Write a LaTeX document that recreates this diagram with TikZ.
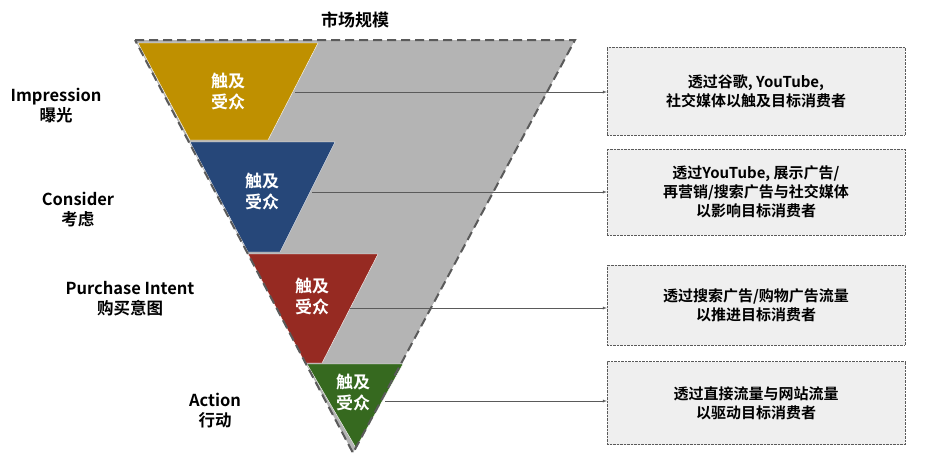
\documentclass[tikz,border=0pt]{standalone}
\usepackage{fontspec}
\setmainfont{Noto Sans CJK SC}[BoldFont={* Bold}]
\usetikzlibrary{positioning,calc}

\definecolor{funnelgray}{HTML}{B4B4B4}
\definecolor{edgegray}{HTML}{5A5A5A}
\definecolor{goldlvl}{HTML}{BF9000}
\definecolor{bluelvl}{HTML}{264779}
\definecolor{redlvl}{HTML}{962A22}
\definecolor{greenlvl}{HTML}{36691F}
\definecolor{boxfill}{HTML}{EFEFEF}

\begin{document}
\begin{tikzpicture}[x=1pt, y=-1pt, >=latex]
    \tikzset{
        stagetext/.style={text=white, font=\bfseries\fontsize{17}{21}\selectfont, align=center},
        sidelabel/.style={font=\bfseries\fontsize{16.5}{20}\selectfont, align=center},
        infobox/.style={draw=edgegray, densely dotted, fill=boxfill, minimum width=298pt, font=\bfseries\fontsize{15}{19}\selectfont, align=center},
        pointer/.style={draw=edgegray, thin, ->}
    }
    \useasboundingbox (0,0) rectangle (929,461);

    % funnel
    \fill[funnelgray] (135,40) -- (575,40) -- (353,453) -- cycle;
    \fill[goldlvl, draw=white, thin] (138,43) -- (318,43) -- (268,140) -- (190,140) -- cycle;
    \fill[bluelvl, draw=white, thin] (190,142) -- (335,142) -- (280,252) -- (248,252) -- cycle;
    \fill[redlvl, draw=white, thin] (248,254) -- (378,254) -- (322,363) -- (305,363) -- cycle;
    \fill[greenlvl, draw=white, thin] (307,364) -- (403,364) -- (356,448) -- cycle;
    \draw[edgegray, line width=2pt, dash pattern=on 9pt off 5pt] (135,40) -- (575,40) -- (353,453) -- cycle;

    \node (title) [font=\bfseries\fontsize{17}{20}\selectfont] at (355,20) {市场规模};

    \node (s1) [stagetext] at (228,92) {触及\\受众};
    \node (s2) [stagetext] at (262,192) {触及\\受众};
    \node (s3) [stagetext] at (312,297) {触及\\受众};
    \node (s4) [stagetext] at (353,393) {触及\\受众};

    \node (l1) [sidelabel] at (56,106) {Impression\\曝光};
    \node (l2) [sidelabel] at (78,210) {Consider\\考虑};
    \node (l3) [sidelabel] at (130,299) {Purchase Intent\\购买意图};
    \node (l4) [sidelabel] at (215,411) {Action\\行动};

    \node (b1) [infobox, minimum height=88pt] at (756,91) {透过谷歌, YouTube,\\社交媒体以触及目标消费者};
    \node (b2) [infobox, minimum height=86pt] at (756,192) {透过YouTube, 展示广告/\\再营销/搜索广告与社交媒体\\以影响目标消费者};
    \node (b3) [infobox, minimum height=80pt] at (756,305) {透过搜索广告/购物广告流量\\以推进目标消费者};
    \node (b4) [infobox, minimum height=83pt] at (756,403) {透过直接流量与网站流量\\以驱动目标消费者};

    \coordinate (c1) at (295,92);
    \coordinate (c2) at (312,192);
    \coordinate (c3) at (350,308);
    \coordinate (c4) at (385,401);
    \draw[pointer] (c1) -- (c1 -| b1.west);
    \draw[pointer] (c2) -- (c2 -| b2.west);
    \draw[pointer] (c3) -- (c3 -| b3.west);
    \draw[pointer] (c4) -- (c4 -| b4.west);
\end{tikzpicture}
\end{document}
